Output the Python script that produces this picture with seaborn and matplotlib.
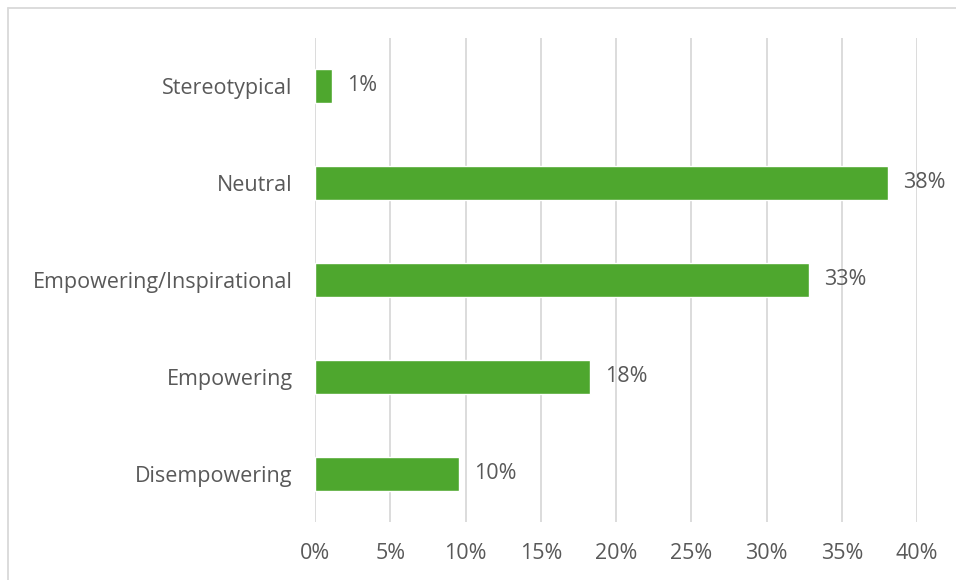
import matplotlib
matplotlib.use("Agg")
import matplotlib.pyplot as plt
import seaborn as sns
import pandas as pd
from matplotlib.lines import Line2D

categories = ["Stereotypical", "Neutral", "Empowering/Inspirational", "Empowering", "Disempowering"]
values = [1.1, 38.1, 32.8, 18.3, 9.6]
labels = ["1%", "38%", "33%", "18%", "10%"]
ticks = [0, 5, 10, 15, 20, 25, 30, 35, 40]
tick_labels = [f"{t}%" for t in ticks]

sns.set_theme(style="white")
plt.rcParams['font.family'] = ['Open Sans', 'DejaVu Sans']
txt = "#595959"
fs = 15.5

df = pd.DataFrame({"cat": categories, "val": values})
fig = plt.figure(figsize=(9.56, 5.8), dpi=100)
ax = fig.add_axes([315/956, 1 - 522/580, (917 - 315)/956, (522 - 37.5)/580])
sns.barplot(data=df, y="cat", x="val", color="#4EA72E", width=0.35, ax=ax, saturation=1, zorder=3)
ax.set_xlim(0, 40)
ax.set_ylim(4.5, -0.5)
ax.set_xticks(ticks)
ax.set_xticklabels(tick_labels, color=txt, fontsize=fs)
ax.tick_params(axis="x", length=0, pad=15)
ax.tick_params(axis="y", length=0, pad=16, labelsize=fs, labelcolor=txt)
ax.set_xlabel("")
ax.set_ylabel("")
ax.grid(axis="x", color="#D9D9D9", linewidth=1.3, zorder=0)
ax.set_axisbelow(True)
for s in ax.spines.values():
    s.set_visible(False)
for i, (v, l) in enumerate(zip(values, labels)):
    ax.text(v + 1.0, i, l, va="center", ha="left", fontsize=fs, color=txt)

fig.add_artist(Line2D([8/956, 8/956], [0, 1 - 8/580], transform=fig.transFigure, color="#D9D9D9", lw=1.3))
fig.add_artist(Line2D([8/956, 1], [1 - 8/580, 1 - 8/580], transform=fig.transFigure, color="#D9D9D9", lw=1.3))
fig.savefig("out.png", dpi=100)
